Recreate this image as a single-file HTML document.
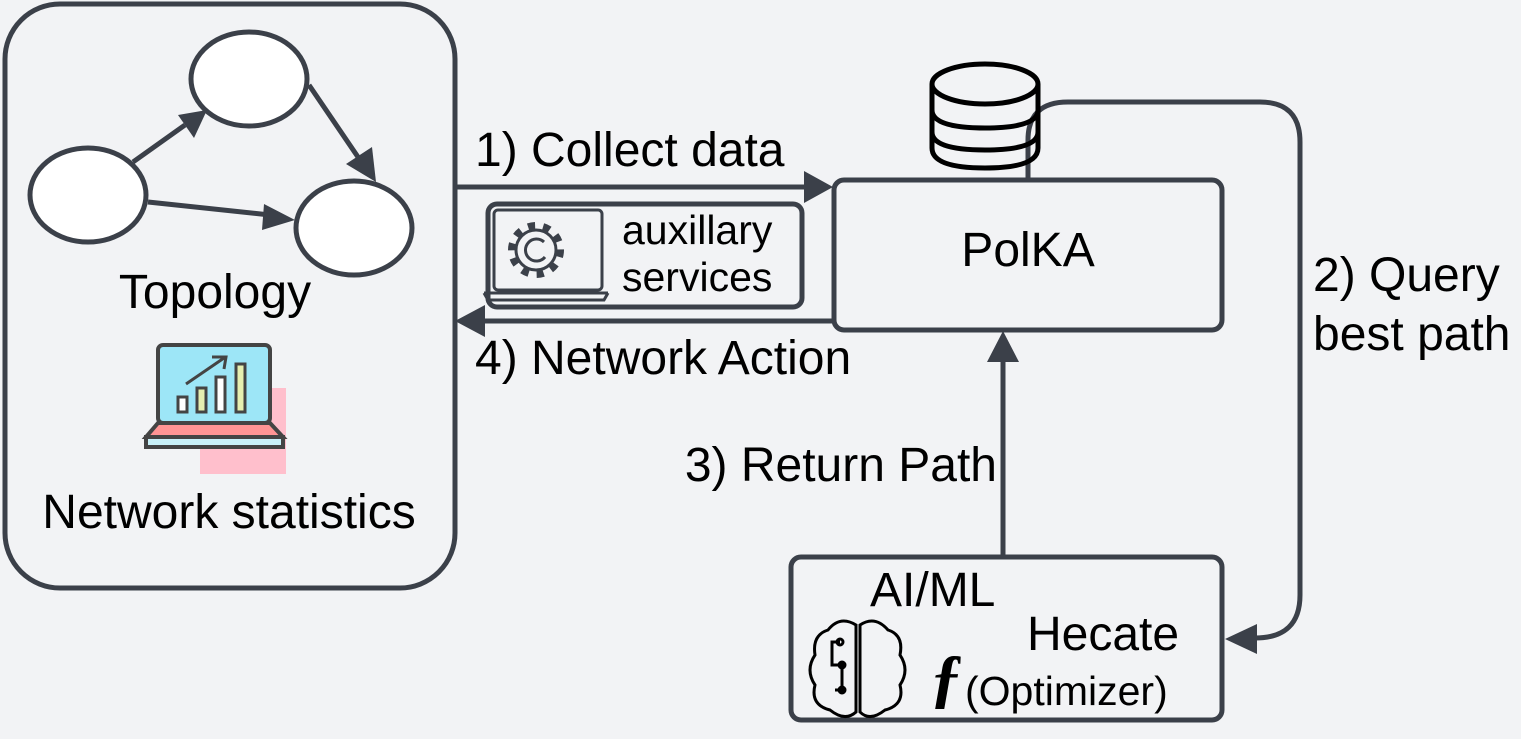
<!DOCTYPE html>
<html><head><meta charset="utf-8"><style>
html,body{margin:0;padding:0;background:#f2f3f5;}
svg{display:block;font-family:"Liberation Sans",Arial,sans-serif;}
</style></head><body>
<svg width="1521" height="739" viewBox="0 0 1521 739" xmlns="http://www.w3.org/2000/svg">
<rect width="1521" height="739" fill="#f2f3f5"/>
<g stroke="#3b4049" stroke-width="5" fill="none">
<rect x="5" y="4" width="450" height="584" rx="55"/>
<ellipse cx="249" cy="79" rx="58" ry="47" fill="#fff"/>
<ellipse cx="88" cy="195" rx="58" ry="47" fill="#fff"/>
<ellipse cx="354" cy="228" rx="58" ry="47" fill="#fff"/>
<line x1="133" y1="162" x2="185" y2="125"/>
<line x1="148" y1="202" x2="270" y2="215"/>
<line x1="309" y1="85" x2="360" y2="160"/>
<rect x="488" y="204" width="314" height="103" rx="9"/>
<rect x="834" y="180" width="388" height="150" rx="10"/>
<rect x="791" y="557" width="431" height="163" rx="10"/>
<line x1="455" y1="187" x2="810" y2="187"/>
<line x1="834" y1="321" x2="480" y2="321"/>
<line x1="1003" y1="557" x2="1003" y2="355"/>
<path d="M1028 178 L1028 140 Q1028 102 1068 102 L1260 102 Q1300 102 1300 142 L1300 595 Q1300 638 1255 638"/>
</g>
<g fill="#3b4049">
<polygon points="207,110 178,115 194,138"/>
<polygon points="295,220 264,204 262,230"/>
<polygon points="376,182 346,164 372,147"/>
<polygon points="833,187 804,171 804,203"/>
<polygon points="455,321 485,305 485,337"/>
<polygon points="1003,331 987,362 1019,362"/>
<polygon points="1225,639 1257,624 1257,654"/>
</g>
<g stroke="#000" stroke-width="5" fill="none">
<path d="M932 84 L932 148 Q932 168 985 168 Q1038 168 1038 148 L1038 84"/>
<ellipse cx="985" cy="84" rx="53" ry="20"/>
<path d="M932 110 Q932 128 985 128 Q1038 128 1038 110"/>
<path d="M932 132 Q932 150 985 150 Q1038 150 1038 132"/>
</g>
<g stroke="#3b4049" stroke-width="3" fill="none">
<rect x="494" y="210" width="108" height="80" rx="4"/>
<line x1="484" y1="293" x2="608" y2="293"/>
<path d="M484 293 L488 300 L604 300 L608 293"/>
<circle cx="536" cy="250" r="20"/>
<circle cx="536" cy="250" r="24" stroke-width="8" stroke-dasharray="7 8"/>
<path d="M544 242 A11 11 0 1 0 545 257"/>
</g>
<rect x="200" y="388" width="86" height="86" fill="#ffbfcc"/>
<rect x="158" y="345" width="112" height="78" rx="5" fill="#9de6f7" stroke="#444" stroke-width="4"/>
<polygon points="158,423 270,423 283,437 146,437" fill="#ff9494" stroke="#444" stroke-width="4"/>
<rect x="146" y="437" width="137" height="10" fill="#c8f0f8" stroke="#444" stroke-width="4"/>
<g stroke="#444" stroke-width="3">
<rect x="178" y="397" width="9" height="15" fill="#fff"/>
<rect x="197" y="388" width="9" height="24" fill="#e6efb0"/>
<rect x="216" y="377" width="9" height="35" fill="#fff"/>
<rect x="236" y="364" width="9" height="48" fill="#e6efb0"/>
<line x1="186" y1="384" x2="224" y2="358"/>
<polyline points="212,357 226,357 224,369" fill="none"/>
</g>
<g stroke="#000" stroke-width="3" fill="none">
<path d="M856 625 Q840 615 828 630 Q812 635 815 655 Q805 670 815 685 Q810 705 830 710 Q845 722 856 712 Z"/>
<path d="M860 625 Q875 615 888 630 Q904 635 900 655 Q910 670 900 685 Q905 705 885 710 Q870 722 860 712 Z"/>
<polyline points="840,642 832,642 832,665 842,665 842,690 835,690"/>
<circle cx="840" cy="642" r="3"/><circle cx="842" cy="665" r="3"/><circle cx="842" cy="690" r="3"/>
</g>
<g fill="#000" font-size="48">
<text x="215" y="308" text-anchor="middle">Topology</text>
<text x="229" y="528" text-anchor="middle">Network statistics</text>
<text x="475" y="166">1) Collect data</text>
<text x="475" y="374">4) Network Action</text>
<text x="1028" y="266" text-anchor="middle">PolKA</text>
<text x="997" y="481" text-anchor="end">3) Return Path</text>
<text x="1313" y="291">2) Query</text>
<text x="1313" y="350">best path</text>
<text x="622" y="244" font-size="41">auxillary</text>
<text x="622" y="291" font-size="41">services</text>
<text x="870" y="606">AI/ML</text>
<text x="1027" y="650">Hecate</text>
<text x="930" y="700" font-size="66" font-style="italic" font-weight="bold" font-family="Liberation Serif,serif">ƒ</text>
<text x="965" y="705" font-size="41">(Optimizer)</text>
</g>
</svg>
</body></html>
